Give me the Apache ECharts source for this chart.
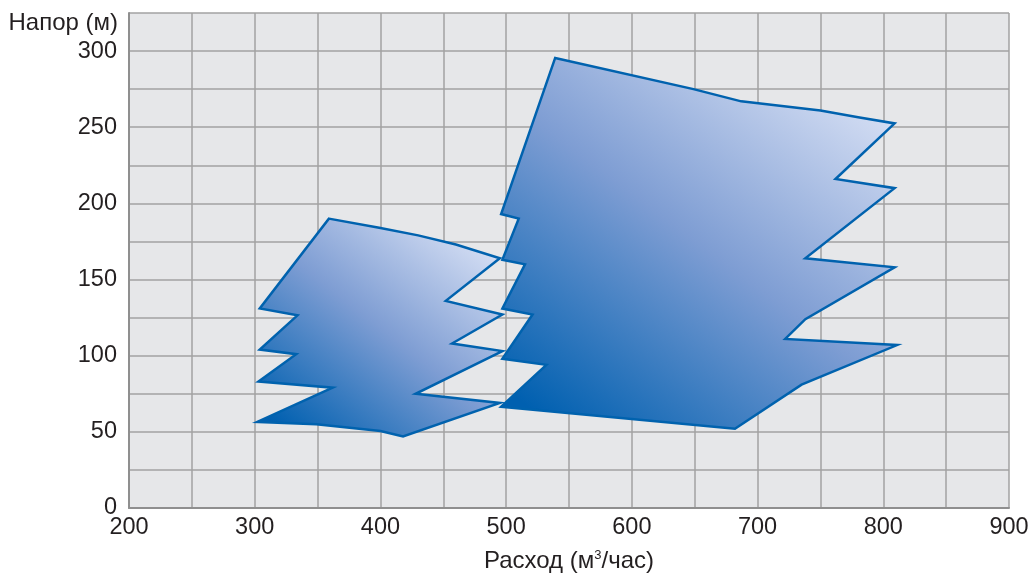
<!DOCTYPE html>
<html>
<head>
<meta charset="utf-8">
<script src="https://cdn.jsdelivr.net/npm/echarts@6/dist/echarts.min.js"></script>
<style>
html,body{margin:0;padding:0;background:#fff;}
#chart{width:1032px;height:574px;}
</style>
</head>
<body>
<div id="chart"></div>
<script>
// Pump operating ranges: [расход м³/час, напор м]
const rangeSmall = [
  [359, 190], [399, 184], [430, 179], [460, 173], [495, 164],
  [452, 136], [497, 127], [457, 108], [497, 103],
  [428, 75], [495, 69], [418, 47],
  [400, 50.5], [349, 55], [302, 56.5],
  [362, 79], [303, 83], [333, 101], [304, 104],
  [334, 126.5], [304, 131]
];
const rangeLarge = [
  [539, 295.5], [649, 275], [687, 267], [750, 261], [780, 256.6], [809, 252.5],
  [762, 216], [809, 210], [738, 164], [809, 158],
  [738, 124], [722, 111], [811, 107], [735, 81], [682, 52],
  [496, 66.5], [532, 94], [497, 98], [521, 127], [497, 131],
  [515, 160], [497, 163], [510, 190], [496, 193]
];
const xTicks = {min: 200, max: 900, step: 50, labelStep: 100};
const yTicks = {min: 0, max: 325, step: 25, labelStep: 50};
const xName = 'Расход (м{sup|3}/час)';
const yName = 'Напор (м)';

const FONT = '"Liberation Sans", Arial, sans-serif';
const TXT = '#231f20';

function polySeries(pts) {
  return {
    type: 'custom',
    coordinateSystem: 'cartesian2d',
    data: pts,
    encode: {x: 0, y: 1},
    silent: true,
    renderItem: function (params, api) {
      if (params.dataIndex !== 0) return null;
      const coords = pts.map(p => api.coord(p));
      return {
        type: 'polygon',
        shape: {points: coords},
        style: {
          fill: new echarts.graphic.LinearGradient(0.15, 1, 0.85, 0, [
            {offset: 0, color: '#0060b0'},
            {offset: 0.5, color: '#7e9dd3'},
            {offset: 1, color: '#dbe3f6'}
          ]),
          stroke: '#0062ae',
          lineWidth: 2.5,
          lineJoin: 'miter'
        }
      };
    }
  };
}

const chart = echarts.init(document.getElementById('chart'), null, {renderer: 'canvas'});
chart.setOption({
  animation: false,
  backgroundColor: '#ffffff',
  grid: {
    left: 129, right: 23, top: 13, bottom: 66,
    show: true, backgroundColor: '#e6e7e9', borderWidth: 0,
    containLabel: false, outerBoundsMode: 'none'
  },
  xAxis: {
    type: 'value',
    min: xTicks.min, max: xTicks.max, interval: xTicks.step,
    name: xName,
    nameLocation: 'middle',
    nameGap: 53,
    nameTextStyle: {
      fontFamily: FONT, fontSize: 24, color: TXT, verticalAlign: 'middle',
      rich: {sup: {fontFamily: FONT, fontSize: 13, color: TXT, verticalAlign: 'top', padding: [0, 0, 10, 0]}}
    },
    axisLine: {show: true, lineStyle: {color: '#8f8f8f', width: 2}},
    axisTick: {show: false},
    splitLine: {show: true, lineStyle: {color: '#a2a2a2', width: 1.5}},
    axisLabel: {
      fontFamily: FONT, fontSize: 23.5, color: TXT, margin: 8,
      formatter: v => (v % xTicks.labelStep === 0 ? String(v) : '')
    }
  },
  yAxis: {
    type: 'value',
    min: yTicks.min, max: yTicks.max, interval: yTicks.step,
    name: yName,
    nameLocation: 'end',
    nameGap: -10,
    nameTextStyle: {
      fontFamily: FONT, fontSize: 24, color: TXT,
      align: 'right', verticalAlign: 'middle', padding: [0, 11, 0, 0]
    },
    axisLine: {show: true, lineStyle: {color: '#8f8f8f', width: 2}},
    axisTick: {show: false},
    splitLine: {show: true, lineStyle: {color: '#a2a2a2', width: 1.5}},
    axisLabel: {
      fontFamily: FONT, fontSize: 23.5, color: TXT, margin: 12,
      formatter: v => (v % yTicks.labelStep === 0 ? String(v) : '')
    }
  },
  series: [polySeries(rangeSmall), polySeries(rangeLarge)]
});
</script>
</body>
</html>
